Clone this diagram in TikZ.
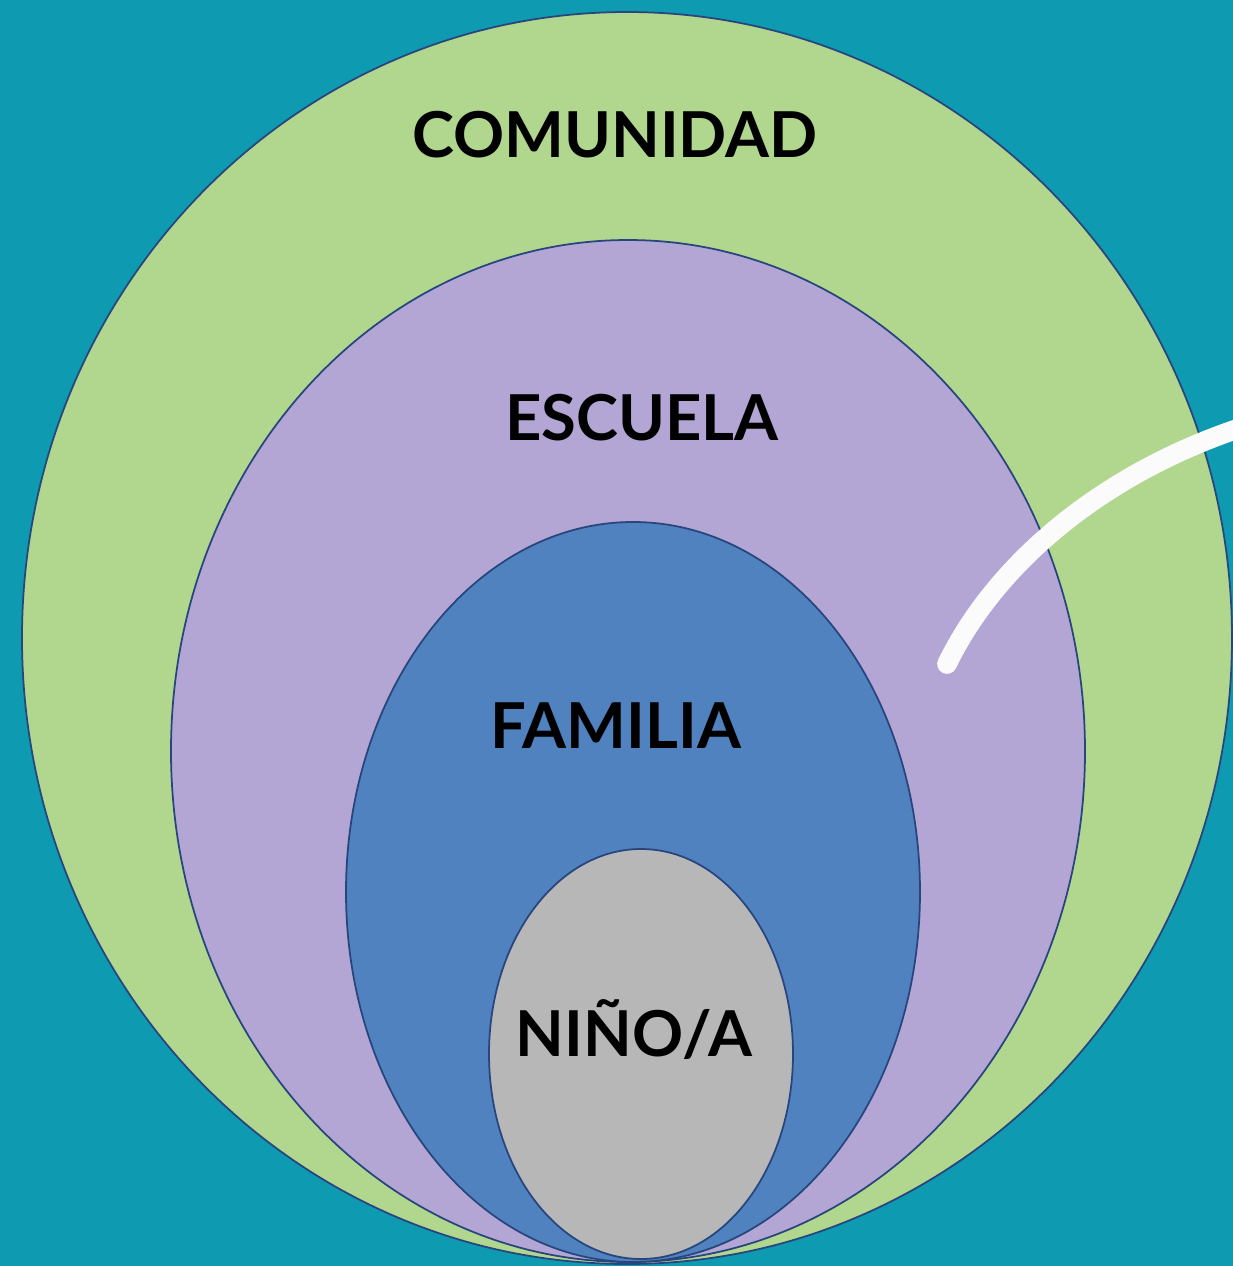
\documentclass[tikz,border=0pt]{standalone}
\usepackage{fontspec}
\setmainfont{Lato}
\definecolor{fondo}{RGB}{14,154,176}
\definecolor{verde}{RGB}{177,215,142}
\definecolor{lila}{RGB}{179,166,213}
\definecolor{azul}{RGB}{79,130,190}
\definecolor{gris}{RGB}{183,183,183}
\definecolor{borde}{RGB}{40,70,125}
\begin{document}
\begin{tikzpicture}[x=0.01cm,y=-0.01cm]
			\fill[fondo] (0,0) rectangle (1233,1266);
			\useasboundingbox (0,0) rectangle (1233,1266);
			
			\begin{scope}[every path/.style={draw=borde,line width=0.5pt}]
			\path[fill=verde] (627,638) ellipse [x radius=605, y radius=626];
			\path[fill=lila]  (628,751) ellipse [x radius=457, y radius=511];
			\path[fill=azul]  (633,892) ellipse [x radius=287, y radius=370];
			\path[fill=gris]  (641,1054) ellipse [x radius=152, y radius=205];
			\end{scope}
			
			\draw[white!97!gray,line width=5.6pt,line cap=round] (947,664) .. controls (995,565) and (1100,475) .. (1240,428);
			
			\begin{scope}[every node/.style={font=\fontsize{18}{22}\selectfont\bfseries,text=black}]
			\node (comunidad) at (615,135)  {COMUNIDAD};
			\node (escuela)   at (642,418)  {ESCUELA};
			\node (familia)   at (616,726)  {FAMILIA};
			\node (nino)      at (634,1030) {NIÑO/A};
			\end{scope}
\end{tikzpicture}
\end{document}
